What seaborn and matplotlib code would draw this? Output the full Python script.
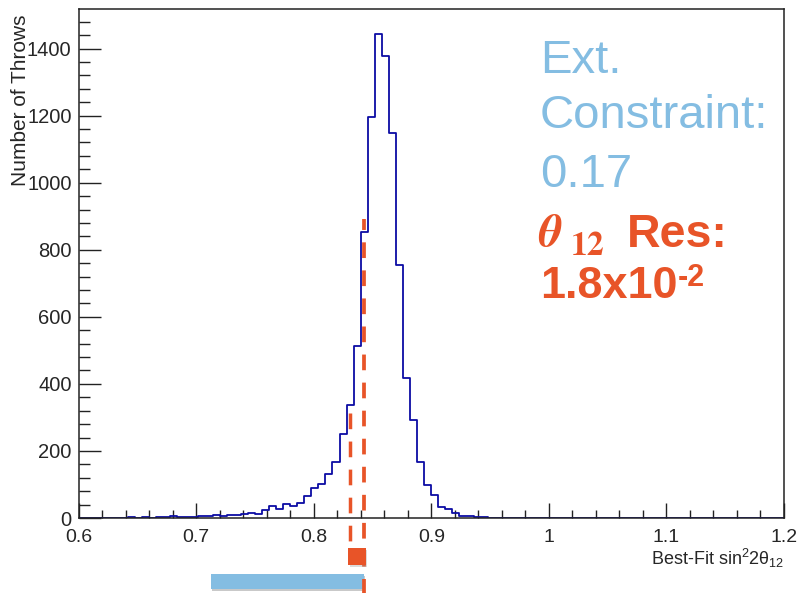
import numpy as np
import pandas as pd
import matplotlib
matplotlib.use("Agg")
import matplotlib.pyplot as plt
from matplotlib.patches import Rectangle
from matplotlib.ticker import MultipleLocator, FuncFormatter
import seaborn as sns

# ---- data -------------------------------------------------------------
# Best-fit sin^2(2 theta_12) over toy throws, 100 bins on [0.6, 1.2]
x_min, x_max, n_bins = 0.6, 1.2, 100
throw_counts = [
    0, 0, 0, 0, 0, 0, 0, 2, 1, 2,
    1, 2, 4, 5, 3, 4, 3, 5, 7, 8,
    5, 8, 9, 13, 16, 13, 25, 35, 27, 43,
    37, 46, 66, 88, 100, 132, 168, 250, 337, 513,
    854, 1196, 1445, 1378, 1148, 756, 419, 293, 166, 98,
    70, 33, 28, 15, 7, 5, 4, 3, 0, 0,
    0, 0, 0, 0, 0, 0, 0, 0, 0, 0,
    0, 0, 0, 0, 0, 0, 0, 0, 0, 0,
    0, 0, 0, 0, 0, 0, 0, 0, 0, 0,
    0, 0, 0, 0, 0, 0, 0, 0, 0, 0,
]

# resolution band markers (x position, top of dashed line in counts)
res_line_x = [0.8307, 0.8428]
res_line_top = [313, 892]
res_line_bottom = [-125, -224]
res_box_x = [0.8295, 0.8443]
res_box_y = [-140, -90]
# external-constraint bar
ext_bar_x = [0.7124, 0.8428]
ext_bar_y = [-213, -168]

x_ticks = [0.6, 0.7, 0.8, 0.9, 1.0, 1.1, 1.2]
y_ticks = [0, 200, 400, 600, 800, 1000, 1200, 1400]

# ---- style ------------------------------------------------------------
sns.set_style("ticks")
plt.rcParams["font.family"] = ["Liberation Sans", "DejaVu Sans"]
plt.rcParams["mathtext.fontset"] = "custom"
plt.rcParams["mathtext.rm"] = "Liberation Sans"
plt.rcParams["mathtext.it"] = "Liberation Sans:italic"
plt.rcParams["mathtext.bf"] = "Liberation Sans:bold"
plt.rcParams["lines.scale_dashes"] = False

hist_color = "#0c0ca4"
blue = "#84bde2"
orange = "#e85428"

W, H = 811, 593
fig = plt.figure(figsize=(W / 100, H / 100), dpi=100)
ax = fig.add_axes([78.5 / W, 75 / H, 705.5 / W, 508.7 / H])

bin_width = (x_max - x_min) / n_bins
df = pd.DataFrame({
    "sin2_2theta12": x_min + bin_width * (np.arange(n_bins) + 0.5),
    "throws": throw_counts,
})
sns.histplot(data=df, x="sin2_2theta12", weights="throws", bins=n_bins,
             binrange=(x_min, x_max), element="step", fill=False,
             color=hist_color, linewidth=1.3, ax=ax)

ax.set_xlim(x_min, x_max)
ax.set_ylim(0, 1.05 * max(throw_counts))
ax.set_xlabel("")
ax.set_ylabel("")

ax.set_xticks(x_ticks)
ax.set_yticks(y_ticks)
ax.xaxis.set_minor_locator(MultipleLocator(0.02))
ax.yaxis.set_minor_locator(MultipleLocator(40))
ax.xaxis.set_major_formatter(FuncFormatter(lambda v, p: f"{v:g}"))
ax.tick_params(axis="x", which="major", direction="in", length=10.8, width=1.0,
               labelsize=14, pad=8, color="#222222")
ax.tick_params(axis="x", which="minor", direction="in", length=5.5, width=1.0,
               color="#222222")
ax.tick_params(axis="y", which="major", direction="in", length=15.6, width=1.0,
               labelsize=14.5, pad=5, color="#222222")
ax.tick_params(axis="y", which="minor", direction="in", length=7.9, width=1.0,
               color="#222222")
for s in ax.spines.values():
    s.set_linewidth(1.1)
    s.set_color("#222222")

# axis titles
fig.text(784 / W, 1 - 565 / H, "Best-Fit sin$^{2}$2θ$_{12}$", ha="right",
         va="baseline", fontsize=13)
fig.text(21 / W, 1 - 14 / H, "Number of Throws", rotation=90, ha="center",
         va="top", fontsize=15)

# resolution markers below and through the histogram
ax.plot([res_line_x[1], res_line_x[1]], [res_line_top[1], res_line_bottom[1]],
        color=orange, lw=2.7, linestyle=(3.4, (11.3, 8.9)), clip_on=False,
        zorder=6)
ax.plot([res_line_x[0], res_line_x[0]], [res_line_top[0], res_line_bottom[0]],
        color=orange, lw=2.5, linestyle=(0, (11.3, 8.9)), clip_on=False,
        zorder=6)
ax.add_patch(Rectangle((res_box_x[0] + 0.001, res_box_y[0] - 5),
                       res_box_x[1] - res_box_x[0], res_box_y[1] - res_box_y[0],
                       color="#999999", alpha=0.35, lw=0, clip_on=False,
                       zorder=6))
ax.add_patch(Rectangle((res_box_x[0], res_box_y[0]),
                       res_box_x[1] - res_box_x[0], res_box_y[1] - res_box_y[0],
                       color=orange, lw=0, clip_on=False, zorder=7))
ax.add_patch(Rectangle((ext_bar_x[0] + 0.001, ext_bar_y[0] - 5),
                       ext_bar_x[1] - ext_bar_x[0], ext_bar_y[1] - ext_bar_y[0],
                       color="#888888", alpha=0.45, lw=0, clip_on=False,
                       zorder=4))
ax.add_patch(Rectangle((ext_bar_x[0], ext_bar_y[0]),
                       ext_bar_x[1] - ext_bar_x[0], ext_bar_y[1] - ext_bar_y[0],
                       color=blue, lw=0, clip_on=False, zorder=5))


# side annotations (positions in pixels from the top-left corner)
def label(px, py, s, **kw):
    fig.text(px / W, 1 - py / H, s, va="baseline", **kw)


label(540, 73.3, "Ext.", color=blue, fontsize=34)
label(540, 128.3, "Constraint:", color=blue, fontsize=34)
label(540, 186.7, "0.17", color=blue, fontsize=34)
label(538, 246.5, r"$\boldsymbol{\theta}$", color=orange, fontsize=33,
      math_fontfamily="stix")
label(570, 255, r"$\mathbf{12}$", color=orange, fontsize=24,
      math_fontfamily="stix")
label(627, 246.7, "Res:", color=orange, fontsize=33.5, fontweight="bold")
label(540, 298.3, "1.8x10", color=orange, fontsize=32.3, fontweight="bold")
label(678, 285.5, "-2", color=orange, fontsize=22, fontweight="bold")

fig.savefig("out.png", dpi=100)
